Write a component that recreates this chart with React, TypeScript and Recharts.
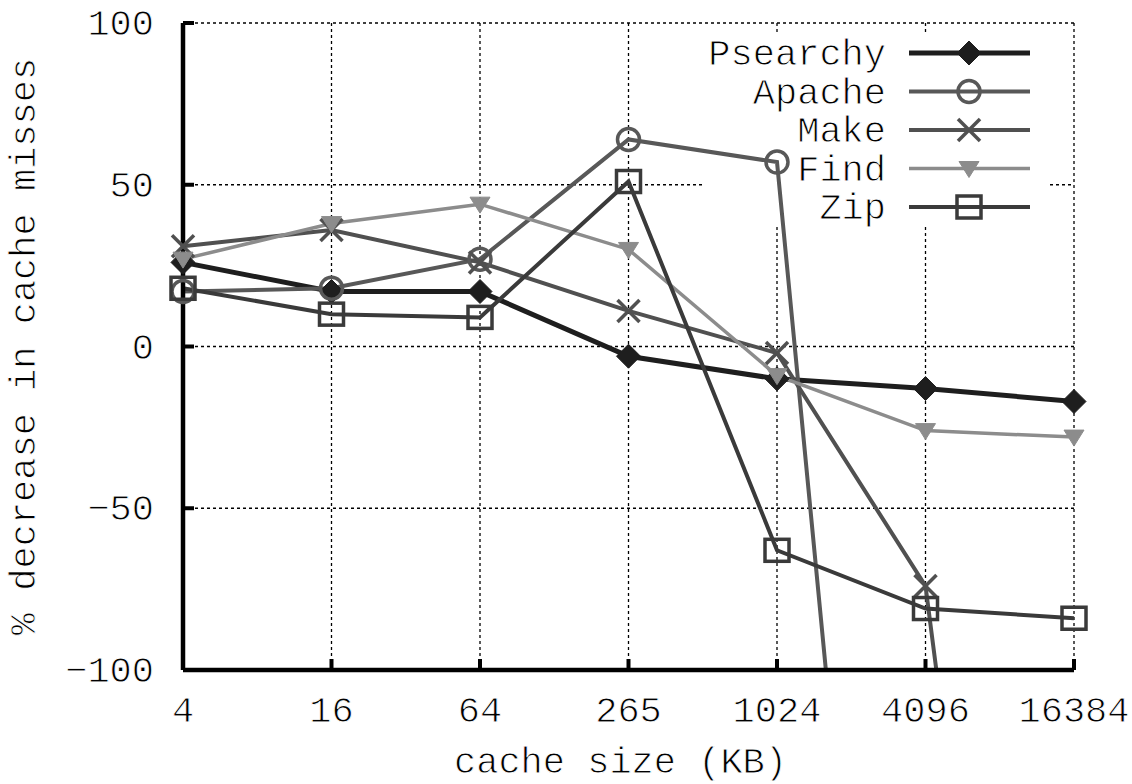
import React from "react";
import { LineChart, Line, XAxis, YAxis, CartesianGrid, Legend, Label } from "recharts";

const categories = ["4", "16", "64", "265", "1024", "4096", "16384"];
const psearchy = [26, 17, 17, -3, -10, -13, -17];
const apache = [17, 18, 27, 64, 57, -420, -420];
const make = [31, 36, 26, 11, -2, -74, -430];
const find = [27, 38, 44, 30, -9, -26, -28];
const zip = [18, 10, 9, 51, -63, -81, -84];
const yTicks = [-100, -50, 0, 50, 100];

const data = categories.map((c, i) => ({
  size: c,
  Psearchy: psearchy[i],
  Apache: apache[i],
  Make: make[i],
  Find: find[i],
  Zip: zip[i],
}));

const FONT = "'Liberation Mono', 'DejaVu Sans Mono', monospace";
const FS = 37;
const thin = { stroke: "#fff", strokeWidth: 0.9 };

type Shape = "diamond" | "circle" | "x" | "tri" | "square";

const seriesDefs: { key: string; color: string; width: number; shape: Shape }[] = [
  { key: "Psearchy", color: "#1e1e1e", width: 5, shape: "diamond" },
  { key: "Apache", color: "#585858", width: 4, shape: "circle" },
  { key: "Make", color: "#505050", width: 4, shape: "x" },
  { key: "Find", color: "#8c8c8c", width: 3.5, shape: "tri" },
  { key: "Zip", color: "#3a3a3a", width: 4, shape: "square" },
];

function Marker({ shape, cx, cy, color }: { shape: Shape; cx: number; cy: number; color: string }) {
  if (cx == null || cy == null || isNaN(cx) || isNaN(cy)) return null;
  switch (shape) {
    case "diamond":
      return (
        <polygon
          points={`${cx},${cy - 12} ${cx + 12},${cy} ${cx},${cy + 12} ${cx - 12},${cy}`}
          fill={color}
          stroke={color}
          strokeWidth={1}
        />
      );
    case "circle":
      return <circle cx={cx} cy={cy} r={11} fill="none" stroke={color} strokeWidth={3.5} />;
    case "x":
      return (
        <g stroke={color} strokeWidth={3.5}>
          <line x1={cx - 11} y1={cy - 11} x2={cx + 11} y2={cy + 11} />
          <line x1={cx - 11} y1={cy + 11} x2={cx + 11} y2={cy - 11} />
        </g>
      );
    case "tri":
      return (
        <polygon
          points={`${cx - 10},${cy - 7} ${cx + 10},${cy - 7} ${cx},${cy + 9}`}
          fill={color}
          stroke={color}
          strokeWidth={1}
        />
      );
    case "square":
      return <rect x={cx - 12} y={cy - 11} width={24} height={22} fill="none" stroke={color} strokeWidth={3.5} />;
  }
  return null;
}

// legend box region (gridlines are hidden behind it)
const BOX = { x1: 703, x2: 1050, y1: 33, y2: 227 };

const gridStyle = { stroke: "#000", strokeWidth: 1.3, strokeDasharray: "3 3" };

function HGrid(props: any) {
  const { x1, x2, y1, index } = props;
  if (y1 > BOX.y1 && y1 < BOX.y2) {
    return (
      <g key={`h${index}`}>
        <line x1={x1} x2={BOX.x1} y1={y1} y2={y1} {...gridStyle} />
        <line x1={BOX.x2} x2={x2} y1={y1} y2={y1} {...gridStyle} />
      </g>
    );
  }
  return <line key={`h${index}`} x1={x1} x2={x2} y1={y1} y2={y1} {...gridStyle} />;
}

function VGrid(props: any) {
  const { x1, y1, y2, index } = props;
  if (x1 > BOX.x1 && x1 < BOX.x2) {
    return (
      <g key={`v${index}`}>
        <line x1={x1} x2={x1} y1={y1} y2={BOX.y1} {...gridStyle} />
        <line x1={x1} x2={x1} y1={BOX.y2} y2={y2} {...gridStyle} />
      </g>
    );
  }
  return <line key={`v${index}`} x1={x1} x2={x1} y1={y1} y2={y2} {...gridStyle} />;
}

const fmt = (v: number) => String(v).replace("-", "\u2212");

function YTick(props: any) {
  const { x, y, payload } = props;
  return (
    <g>
      <line x1={x} x2={x + 11} y1={y} y2={y} stroke="#000" strokeWidth={4} />
      <text x={x - 29} y={y + 12} textAnchor="end" fontFamily={FONT} fontSize={FS} fill="#000" {...thin}>
        {fmt(payload.value)}
      </text>
    </g>
  );
}

function XTick(props: any) {
  const { x, y, payload } = props;
  return (
    <g>
      <line x1={x} x2={x} y1={y} y2={y - 11} stroke="#000" strokeWidth={4} />
      <text x={x} y={y + 52} textAnchor="middle" fontFamily={FONT} fontSize={FS} fill="#000" {...thin}>
        {payload.value}
      </text>
    </g>
  );
}

function LegendContent() {
  const rowGap = 38.5;
  return (
    <svg width={350} height={195} style={{ display: "block", overflow: "visible" }}>
      {seriesDefs.map((s, i) => {
        const cy = 20 + i * rowGap;
        return (
          <g key={s.key}>
            <text x={186} y={cy + 12} textAnchor="end" fontFamily={FONT} fontSize={FS} fill="#000" {...thin}>
              {s.key}
            </text>
            <line x1={209} x2={330} y1={cy} y2={cy} stroke={s.color} strokeWidth={s.width} />
            <Marker shape={s.shape} cx={269} cy={cy} color={s.color} />
          </g>
        );
      })}
    </svg>
  );
}

export default function App() {
  return (
    <div style={{ position: "absolute", left: 0, top: 0, width: 1132, height: 784, background: "#fff" }}>
      <LineChart width={1132} height={784} data={data} margin={{ top: 23, right: 58, bottom: 0, left: 0 }}>
        <CartesianGrid horizontal={HGrid as any} vertical={VGrid as any} />
        <XAxis
          dataKey="size"
          height={114}
          tickSize={0}
          tickMargin={0}
          tick={<XTick />}
          axisLine={{ stroke: "#000", strokeWidth: 4.5 }}
          tickLine={false}
          interval={0}
        >
          <Label
            content={(p: any) => {
              const vb = p.viewBox || { x: 183, y: 670, width: 891 };
              return (
                <text
                  x={vb.x + vb.width / 2 - 8}
                  y={vb.y + 103}
                  textAnchor="middle"
                  fontFamily={FONT}
                  fontSize={FS}
                  fill="#000"
                  {...thin}
                >
                  cache size (KB)
                </text>
              );
            }}
          />
        </XAxis>
        <YAxis
          width={183}
          domain={[-100, 100]}
          ticks={yTicks}
          allowDataOverflow
          tickSize={0}
          tickMargin={0}
          tick={<YTick />}
          axisLine={{ stroke: "#000", strokeWidth: 4.5 }}
          tickLine={false}
          interval={0}
        >
          <Label
            content={(p: any) => {
              const vb = p.viewBox || { x: 0, y: 23, height: 647 };
              const cx = vb.x + 35;
              const cy = vb.y + vb.height / 2;
              return (
                <text
                  x={cx}
                  y={cy}
                  transform={`rotate(-90 ${cx} ${cy})`}
                  textAnchor="middle"
                  fontFamily={FONT}
                  fontSize={FS}
                  fill="#000"
                  {...thin}
                >
                  % decrease in cache misses
                </text>
              );
            }}
          />
        </YAxis>
        <Legend
          layout="horizontal"
          verticalAlign="middle"
          align="center"
          content={<LegendContent />}
          wrapperStyle={{ position: "absolute", left: 700, top: 33, width: 350, height: 195 }}
        />
        {seriesDefs.map((s) => (
          <Line
            key={s.key}
            dataKey={s.key}
            stroke={s.color}
            strokeWidth={s.width}
            isAnimationActive={false}
            legendType="none"
            dot={(p: any) => <Marker key={`${s.key}-${p.index}`} shape={s.shape} cx={p.cx} cy={p.cy} color={s.color} />}
            activeDot={false}
          />
        ))}
      </LineChart>
    </div>
  );
}
